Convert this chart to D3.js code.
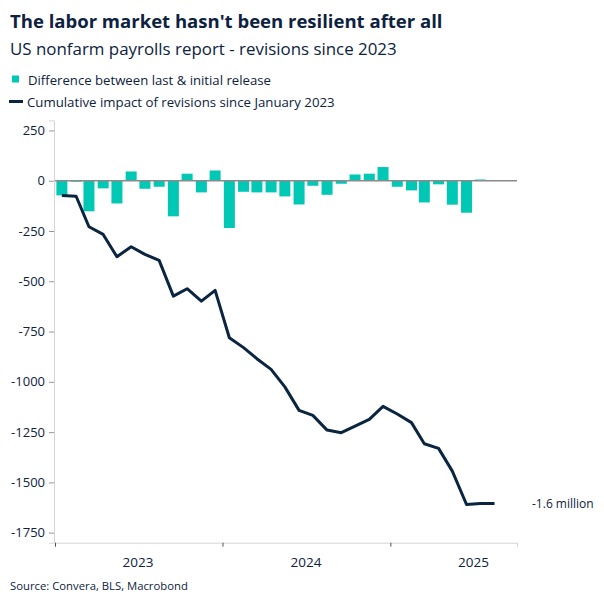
<!DOCTYPE html>
<html>
<head>
<meta charset="utf-8">
<script src="https://cdn.jsdelivr.net/npm/d3@7"></script>
<style>
  body { margin: 0; background: #fff; }
  text { font-family: "Open Sans", "Noto Sans", sans-serif; fill: #0d2240; }
</style>
</head>
<body>
<div id="chart"></div>
<script>
// Months from Jan 2023 to Aug 2025
var months = d3.timeMonths(new Date(2023, 0, 1), new Date(2025, 8, 1));

// Difference between last & initial release (thousands)
var revisions = [-73, -5, -152, -38, -113, 46, -40, -30, -177, 35, -58, 51,
  -235, -55, -58, -58, -78, -118, -25, -70, -15, 31, 35, 68,
  -30, -48, -108, -18, -119, -159, 6, 0];

// Cumulative impact of revisions since January 2023 (thousands)
var cumulative = [-73, -77, -229, -267, -378, -328, -366, -396, -574, -537, -599, -545,
  -781, -830, -885, -938, -1025, -1142, -1167, -1240, -1253, -1220, -1187, -1122,
  -1160, -1203, -1308, -1331, -1444, -1610, -1605, -1605];

var yTicks = [250, 0, -250, -500, -750, -1000, -1250, -1500, -1750];
var yearTicks = [2023, 2024, 2025];

var svgWidth = 604;
var svgHeight = 604;

var margin = {
  top: 120.4,
  right: 87,
  bottom: 61.3,
  left: 55
};

var svg = d3.select("#chart")
  .append("svg")
  .attr("width", svgWidth)
  .attr("height", svgHeight);

// fit a text to a width
function fitText(sel, target) {
  var w = sel.node().getComputedTextLength();
  var size = parseFloat(sel.attr("font-size"));
  sel.attr("font-size", size * target / w);
}

// Title block
var title = svg.append("text")
  .attr("x", 10).attr("y", 28)
  .attr("font-size", 20)
  .attr("font-weight", 700)
  .text("The labor market hasn't been resilient after all");
fitText(title, 433);

var subtitle = svg.append("text")
  .attr("x", 10).attr("y", 55)
  .attr("font-size", 18)
  .text("US nonfarm payrolls report - revisions since 2023");
fitText(subtitle, 387);

// Legend
svg.append("rect")
  .attr("x", 12).attr("y", 75.5)
  .attr("width", 7).attr("height", 7)
  .attr("fill", "#00c8b5");

var leg1 = svg.append("text")
  .attr("x", 28).attr("y", 85)
  .attr("font-size", 14)
  .text("Difference between last & initial release");
fitText(leg1, 243);

svg.append("line")
  .attr("x1", 9).attr("x2", 23)
  .attr("y1", 101.5).attr("y2", 101.5)
  .attr("stroke", "#0a2540")
  .attr("stroke-width", 3);

var leg2 = svg.append("text")
  .attr("x", 27).attr("y", 106.5)
  .attr("font-size", 14)
  .text("Cumulative impact of revisions since January 2023");
fitText(leg2, 308);

// Scales
var xScale = d3.scaleTime()
  .domain([new Date(2023, 0, 1), new Date(2025, 9, 4)])
  .range([margin.left, svgWidth - margin.right]);

var yScale = d3.scaleLinear()
  .domain([-1800, 300])
  .range([svgHeight - margin.bottom, margin.top]);

function midMonth(d) {
  return xScale(new Date(d.getFullYear(), d.getMonth(), 16));
}

// Axes
var leftAxis = d3.axisLeft(yScale)
  .tickValues(yTicks)
  .tickSize(5)
  .tickPadding(4)
  .tickFormat(d => String(d));

var yAxis = svg.append("g")
  .attr("transform", `translate(${margin.left - 1}, 0)`)
  .call(leftAxis);
yAxis.select(".domain").attr("stroke", "#d4d4d4");
yAxis.selectAll(".tick line").attr("stroke", "#999");
yAxis.selectAll(".tick text")
  .attr("font-size", 13)
  .style("font-family", "'Open Sans', sans-serif")
  .attr("fill", "#0d2240");

var bottomAxis = d3.axisBottom(xScale)
  .tickValues(yearTicks.map(y => new Date(y, 0, 1)))
  .tickSize(4)
  .tickFormat("");

var xAxis = svg.append("g")
  .attr("transform", `translate(0, ${svgHeight - margin.bottom})`)
  .call(bottomAxis);
xAxis.select(".domain").attr("stroke", "#d4d4d4");
xAxis.selectAll(".tick line").attr("stroke", "#555");

// year labels sit mid-year
svg.selectAll(".year-label")
  .data(yearTicks)
  .enter()
  .append("text")
  .attr("class", "year-label")
  .attr("x", d => xScale(new Date(d, 6, 1)))
  .attr("y", svgHeight - margin.bottom + 24)
  .attr("text-anchor", "middle")
  .attr("font-size", 13.5)
  .text(d => d);

// Bars
var barWidth = 11;
svg.append("g")
  .selectAll("rect")
  .data(revisions)
  .enter()
  .append("rect")
  .attr("x", (d, i) => midMonth(months[i]) - barWidth / 2)
  .attr("y", d => yScale(Math.max(0, d)))
  .attr("width", barWidth)
  .attr("height", d => Math.abs(yScale(d) - yScale(0)))
  .attr("fill", "#00c8b5");

// zero line
svg.append("line")
  .attr("x1", margin.left).attr("x2", svgWidth - margin.right)
  .attr("y1", yScale(0)).attr("y2", yScale(0))
  .attr("stroke", "#8a8a8a")
  .attr("stroke-width", 1.3);

// Cumulative line
var line = d3.line()
  .x((d, i) => midMonth(months[i]))
  .y(d => yScale(d));

svg.append("path")
  .datum(cumulative)
  .attr("d", line)
  .attr("fill", "none")
  .attr("stroke", "#0a2540")
  .attr("stroke-width", 3)
  .attr("stroke-linejoin", "round");

// end label
svg.append("text")
  .attr("x", 532)
  .attr("y", yScale(cumulative[cumulative.length - 1]) + 4.5)
  .attr("font-size", 12)
  .text("-1.6 million");

// Source
var source = svg.append("text")
  .attr("x", 10).attr("y", 589.5)
  .attr("font-size", 12)
  .text("Source: Convera, BLS, Macrobond");
fitText(source, 178);
</script>
</body>
</html>
